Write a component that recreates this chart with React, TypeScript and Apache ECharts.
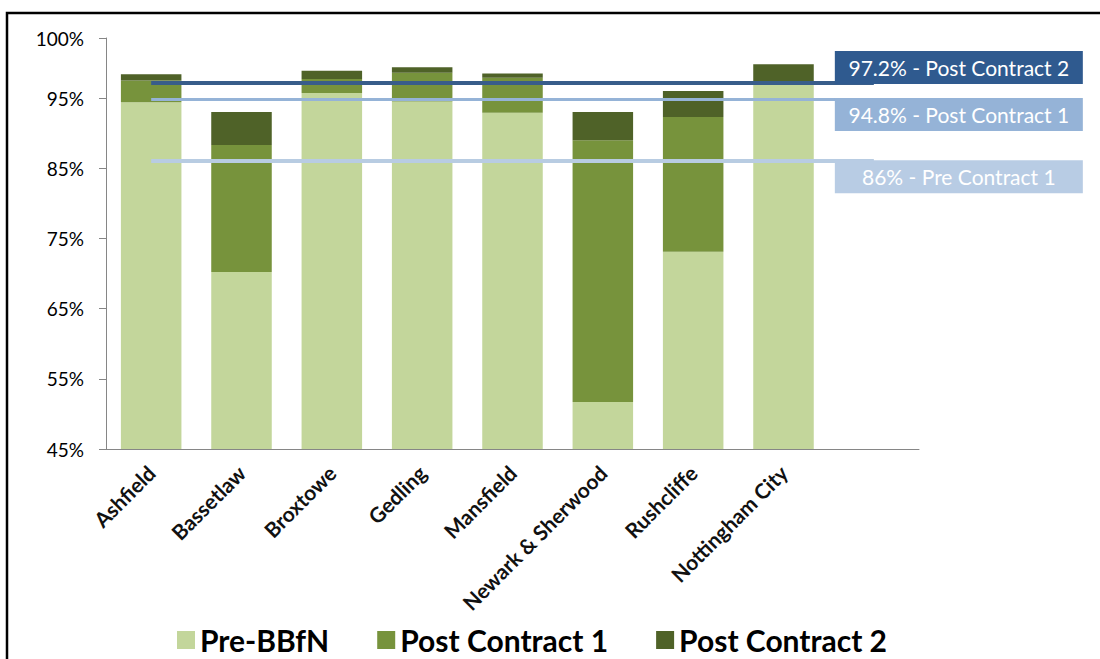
import React, { useEffect, useRef } from "react";
import * as echarts from "echarts";

const categories = ["Ashfield", "Bassetlaw", "Broxtowe", "Gedling", "Mansfield", "Newark & Sherwood", "Rushcliffe", "Nottingham City", ""];
const preBBfN = [94.4, 70.2, 95.7, 94.5, 92.9, 51.7, 73.1, 96.9, null];
const postContract1 = [3.1, 18.1, 2.0, 4.1, 5.0, 37.3, 19.2, 0.4, null];
const postContract2 = [0.9, 4.7, 1.2, 0.8, 0.6, 4.0, 3.7, 2.5, null];
const seriesNames = ["Pre-BBfN", "Post Contract 1", "Post Contract 2"];
const refValues = [97.2, 94.8, 86];
const refLabels = ["97.2% - Post Contract 2", "94.8% - Post Contract 1", "86% - Pre Contract 1"];
const yMin = 45;
const yMax = 103.55;
const yInterval = 10;
const topTickLabel = "100%";

const FONT = 'Lato, "Noto Sans", "DejaVu Sans", sans-serif';

export default function App() {
  const ref = useRef<HTMLDivElement>(null);
  useEffect(() => {
    document.body.style.margin = "0";
    if (!ref.current) return;
    const chart = echarts.init(ref.current, null, { renderer: "svg" });
    const refColors = [
      { line: "#385d8a", box: "#2f5a8f", width: 4 },
      { line: "#95b3d7", box: "#95b3d7", width: 3 },
      { line: "#b8cce2", box: "#b8cce4", width: 4 },
    ];
    const refPos = [
      { position: "insideEndTop", distance: [-85, -1.5], va: "bottom" },
      { position: "insideEndBottom", distance: [-85, -1.4], va: "top" },
      { position: "insideEndBottom", distance: [-85, -1], va: "top" },
    ];
    const markData = refValues.map((v, i) => [
      {
        coord: [0, v],
        lineStyle: { color: refColors[i].line, width: refColors[i].width, type: "solid" },
        label: {
          show: true,
          position: refPos[i].position,
          distance: refPos[i].distance,
          formatter: refLabels[i],
          color: "#ffffff",
          backgroundColor: refColors[i].box,
          fontFamily: FONT,
          fontSize: 21,
          width: 240,
          lineHeight: 27,
          padding: [3, 4, 3, 4],
          align: "center",
          verticalAlign: refPos[i].va,
        },
      },
      { coord: [categories.length - 1, v] },
    ]);
    const option: any = {
      animation: false,
      textStyle: { fontFamily: FONT },
      graphic: [
        {
          type: "rect",
          shape: { x: 7, y: 13, width: 1200, height: 700 },
          style: { fill: "none", stroke: "#000", lineWidth: 2.5 },
          silent: true,
        },
      ],
      grid: { left: 106, right: 181, top: 38, bottom: 210 },
      legend: {
        data: seriesNames,
        left: 172,
        top: 620,
        icon: "rect",
        itemWidth: 18,
        itemHeight: 18,
        itemGap: 48,
        textStyle: { fontSize: 30, fontWeight: "bold", lineHeight: 30, color: "#000", fontFamily: FONT, padding: [0, 0, 0, 0] },
      },
      xAxis: {
        type: "category",
        data: categories,
        axisLine: { lineStyle: { color: "#868686", width: 1 } },
        axisTick: { length: 7, lineStyle: { color: "#868686" } },
        axisLabel: {
          rotate: 45,
          interval: 0,
          margin: 20,
          fontSize: 21,
          fontWeight: "bold",
          color: "#111",
          fontFamily: FONT,
        },
      },
      yAxis: {
        type: "value",
        min: yMin,
        max: yMax,
        interval: yInterval,
        splitLine: { show: false },
        axisLine: { show: true, lineStyle: { color: "#868686", width: 1 } },
        axisTick: { show: true, length: 7, lineStyle: { color: "#868686" } },
        axisLabel: {
          margin: 22,
          fontSize: 19,
          color: "#000",
          fontFamily: FONT,
          formatter: (v: number) => (v > 100 ? topTickLabel : `${v}%`),
        },
      },
      series: [
        {
          name: seriesNames[0],
          type: "bar",
          stack: "total",
          barCategoryGap: "33%",
          data: preBBfN,
          itemStyle: { color: "#c3d69b" },
          emphasis: { disabled: true },
        },
        {
          name: seriesNames[1],
          type: "bar",
          stack: "total",
          data: postContract1,
          itemStyle: { color: "#77933c" },
          emphasis: { disabled: true },
        },
        {
          name: seriesNames[2],
          type: "bar",
          stack: "total",
          data: postContract2,
          itemStyle: { color: "#4f6228" },
          emphasis: { disabled: true },
          markLine: {
            silent: true,
            symbol: ["none", "none"],
            emphasis: { disabled: true },
            data: markData,
          },
        },
      ],
    };
    chart.setOption(option);
    return () => chart.dispose();
  }, []);
  return <div ref={ref} style={{ width: 1100, height: 659 }} />;
}
